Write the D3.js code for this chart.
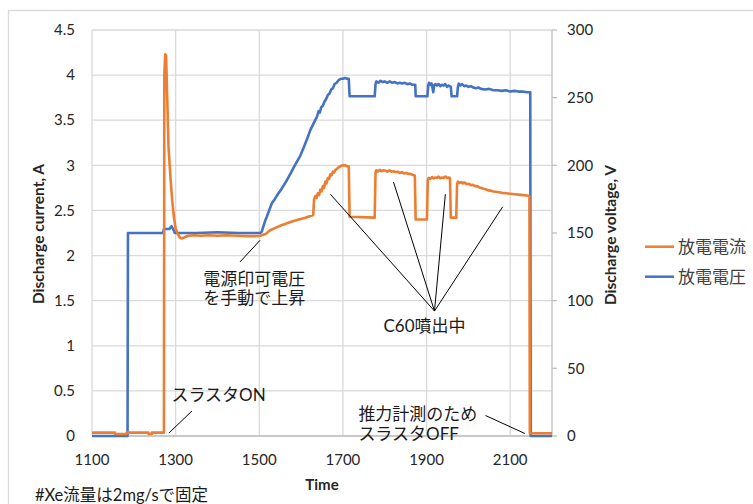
<!DOCTYPE html>
<html><head><meta charset="utf-8">
<script src="https://cdn.jsdelivr.net/npm/d3@7"></script>
<style>
html,body{margin:0;padding:0;background:#fff;}
svg{display:block;}
</style></head>
<body>
<svg id="chart" width="753" height="504"></svg>
<script>
// ---- data ----
const xTicks = [1100, 1300, 1500, 1700, 1900, 2100];
const leftTicks = [0, 0.5, 1, 1.5, 2, 2.5, 3, 3.5, 4, 4.5];
const rightTicks = [0, 50, 100, 150, 200, 250, 300];
const seriesNames = ["放電電流", "放電電圧"];
const xTitle = "Time";
const leftTitle = "Discharge current, A";
const rightTitle = "Discharge voltage, V";
const footnote = "#Xe流量は2mg/sで固定";

// 放電電流 [time, A]
const currentData = [
  [1100,0.037],[1155,0.037],[1155,0.022],[1183,0.022],[1183,0.037],[1235,0.037],[1235,0.022],[1243,0.022],[1243,0.037],[1272,0.037],
  [1273,4.0],[1275,4.23],[1277,4.22],[1279,3.9],[1283,3.2],[1288,2.84],[1292,2.6],[1296,2.42],[1300,2.3],[1306,2.23],[1310,2.2],[1314,2.19],[1320,2.2],
  [1330,2.22],[1345,2.225],[1360,2.22],[1380,2.225],[1400,2.22],[1420,2.225],[1450,2.22],[1470,2.215],[1490,2.215],[1502,2.22],
  [1515,2.24],[1526,2.28],[1540,2.31],[1550,2.33],[1565,2.355],[1580,2.38],[1595,2.40],[1610,2.42],[1629,2.45],
  [1631,2.62],[1634,2.66],[1637,2.64],[1640,2.69],[1643,2.67],[1646,2.73],[1649,2.71],[1652,2.77],[1655,2.75],[1658,2.82],[1661,2.80],
  [1664,2.86],[1667,2.85],[1670,2.90],[1673,2.89],[1676,2.93],[1679,2.92],[1682,2.95],[1686,2.96],[1690,2.98],[1694,2.99],[1698,3.0],
  [1702,3.0],[1706,3.0],[1710,2.99],[1714,2.99],[1716,2.43],[1776,2.42],
  [1778,2.92],[1780,2.945],[1784,2.93],[1788,2.95],[1792,2.935],[1797,2.945],[1802,2.94],[1806,2.93],[1811,2.945],[1816,2.93],[1821,2.935],
  [1826,2.925],[1831,2.93],[1836,2.915],[1841,2.925],[1846,2.91],[1851,2.915],[1856,2.905],[1861,2.905],[1866,2.895],[1870,2.89],[1872,2.885],
  [1874,2.40],[1901,2.40],
  [1903,2.83],[1905,2.86],[1909,2.85],[1913,2.87],[1917,2.855],[1921,2.865],[1925,2.86],[1929,2.875],[1933,2.855],[1937,2.865],[1941,2.86],
  [1945,2.875],[1949,2.86],[1953,2.865],[1956,2.86],[1958,2.42],[1971,2.42],
  [1973,2.79],[1975,2.82],[1979,2.805],[1983,2.815],[1987,2.80],[1991,2.81],[1996,2.79],[2001,2.795],[2006,2.78],[2011,2.785],[2016,2.77],
  [2021,2.77],[2026,2.755],[2031,2.75],[2036,2.74],[2041,2.735],[2046,2.725],[2052,2.72],[2060,2.71],[2070,2.705],[2080,2.695],[2090,2.69],
  [2100,2.685],[2110,2.68],[2120,2.675],[2130,2.67],[2140,2.665],[2146,2.66],[2147,0.03],[2200,0.03]
];

// 放電電圧 [time, V]
const voltageData = [
  [1100,0],[1185,0],[1186,150],[1230,150],[1270,150],[1272,153],[1285,153],[1290,155],[1294,153],[1298,150],[1350,150],[1400,150.5],
  [1450,150],[1502,150],[1506,151],[1510,155],[1514,159],[1518,162],[1524,167],[1530,172],[1537,175],[1545,179],[1552,182],[1558,185],
  [1566,189],[1575,194],[1585,200],[1598,207],[1606,213],[1615,220],[1622,226],[1630,231],[1638,236],[1642,240],[1645,239],[1648,243],
  [1652,244],[1656,247],[1660,249],[1664,252],[1668,253],[1672,256],[1676,257],[1680,260],[1685,261],[1690,263],[1695,264],[1700,264],
  [1705,264.5],[1710,264],[1714,264],[1716,251],[1776,251],
  [1778,260],[1780,262],[1785,261],[1790,262.5],[1795,261.5],[1800,262],[1806,261],[1812,262],[1818,261],[1824,261.5],[1830,260.5],
  [1836,261],[1842,260.5],[1848,261],[1854,260],[1860,260.5],[1866,259.5],[1873,259.5],[1874,251],[1902,251],
  [1904,259],[1906,261],[1909,259.5],[1912,260.5],[1914,258],[1916,254],[1918,259],[1921,260],[1925,259],[1929,260],[1933,258.5],
  [1937,259.5],[1941,259],[1945,260],[1949,258],[1953,259],[1958,258],[1960,251],[1973,251],
  [1975,258],[1977,260.5],[1981,259],[1985,260],[1990,258.5],[1995,259],[2000,258],[2006,258.5],[2012,257.5],[2018,257],[2024,257.5],
  [2030,256.5],[2040,256],[2050,256.5],[2060,255.5],[2070,255.5],[2080,255],[2090,255.5],[2100,254.5],[2110,255],[2120,254.5],
  [2130,254.5],[2140,254],[2148,254],[2149,0],[2200,0]
];

// annotations: text lines, anchor in data units (time, current)
const annotations = [
  {lines:["電源印可電圧","を手動で上昇"], t:1366, a:1.74},
  {lines:["C60噴出中"], t:1797, a:1.22},
  {lines:["スラスタON"], t:1290, a:0.455},
  {lines:["推力計測のため","スラスタOFF"], t:1737, a:0.24}
];
// leader lines [t1,a1,t2,a2]
const leaders = [
  [1502,2.17,1454,1.93],
  [1919,1.385,1670,2.68],
  [1919,1.385,1821,2.815],
  [1919,1.385,1945,2.68],
  [1919,1.385,2082,2.54],
  [1339,0.277,1284,0.033],
  [2041,0.227,2135,0.028]
];

// ---- chart ----
const plot = {left:92, right:552, top:30, bottom:436};
const colors = ["#ED7D31", "#4472C4"];
const latin = "Lato, 'Noto Sans CJK JP', sans-serif";
const cjk = "Lato, 'Noto Sans CJK JP', sans-serif";

const svg = d3.select("#chart");
const x = d3.scaleLinear().domain([1100, 2200]).range([plot.left, plot.right]);
const yL = d3.scaleLinear().domain([0, 4.5]).range([plot.bottom, plot.top]);
const yR = d3.scaleLinear().domain([0, 300]).range([plot.bottom, plot.top]);

// outer chart border
svg.append("rect").attr("x", 8.5).attr("y", 10.5).attr("width", 800).attr("height", 600)
  .attr("fill", "none").attr("stroke", "#d9d9d9").attr("stroke-width", 1.3);

// gridlines
const g = svg.append("g");
g.selectAll("line.hg").data(leftTicks).enter().append("line")
  .attr("x1", plot.left).attr("x2", plot.right)
  .attr("y1", d => yL(d)).attr("y2", d => yL(d))
  .attr("stroke", "#d9d9d9").attr("stroke-width", 1.3);
g.selectAll("line.vg").data(xTicks).enter().append("line")
  .attr("x1", d => x(d)).attr("x2", d => x(d))
  .attr("y1", plot.top).attr("y2", plot.bottom)
  .attr("stroke", "#d9d9d9").attr("stroke-width", 1.3);

// bottom axis line
svg.append("line").attr("x1", plot.left).attr("x2", plot.right)
  .attr("y1", plot.bottom).attr("y2", plot.bottom).attr("stroke", "#bfbfbf").attr("stroke-width", 1.3);
// right axis line + ticks
svg.append("line").attr("x1", plot.right).attr("x2", plot.right)
  .attr("y1", plot.top).attr("y2", plot.bottom).attr("stroke", "#bfbfbf").attr("stroke-width", 1.3);
svg.selectAll("line.rt").data(rightTicks).enter().append("line")
  .attr("x1", plot.right).attr("x2", plot.right + 5)
  .attr("y1", d => yR(d)).attr("y2", d => yR(d)).attr("stroke", "#bfbfbf").attr("stroke-width", 1.3);

// tick labels
svg.selectAll("text.lt").data(leftTicks).enter().append("text")
  .attr("x", plot.left - 17).attr("y", d => yL(d)).attr("dy", "0.35em")
  .attr("text-anchor", "end").attr("font-family", latin).attr("font-size", 15).attr("fill", "#262626")
  .text(d => d);
svg.selectAll("text.rt").data(rightTicks).enter().append("text")
  .attr("x", plot.right + 15).attr("y", d => yR(d)).attr("dy", "0.35em")
  .attr("text-anchor", "start").attr("font-family", latin).attr("font-size", 15).attr("fill", "#262626")
  .text(d => d);
svg.selectAll("text.xt").data(xTicks).enter().append("text")
  .attr("x", d => x(d)).attr("y", plot.bottom + 24).attr("dy", "0.35em")
  .attr("text-anchor", "middle").attr("font-family", latin).attr("font-size", 15).attr("fill", "#262626")
  .text(d => d);

// axis titles
svg.append("text").attr("x", (plot.left + plot.right) / 2).attr("y", 485).attr("dy", "0.35em")
  .attr("text-anchor", "middle").attr("font-family", latin).attr("font-weight", "bold")
  .attr("font-size", 15).attr("fill", "#262626").text(xTitle);
svg.append("text").attr("transform", `translate(39,${(plot.top + plot.bottom) / 2 + 1}) rotate(-90)`)
  .attr("dy", "0.35em").attr("text-anchor", "middle").attr("font-family", latin).attr("font-weight", "bold")
  .attr("font-size", 15.5).attr("fill", "#262626").text(leftTitle);
svg.append("text").attr("transform", `translate(611,${(plot.top + plot.bottom) / 2 + 2}) rotate(-90)`)
  .attr("dy", "0.35em").attr("text-anchor", "middle").attr("font-family", latin).attr("font-weight", "bold")
  .attr("font-size", 15.5).attr("fill", "#262626").text(rightTitle);

// series lines
const lineL = d3.line().x(d => x(d[0])).y(d => yL(d[1]));
const lineR = d3.line().x(d => x(d[0])).y(d => yR(d[1]));
svg.append("path").datum(voltageData).attr("d", lineR)
  .attr("fill", "none").attr("stroke", colors[1]).attr("stroke-width", 2.6).attr("stroke-linejoin", "round");
svg.append("path").datum(currentData).attr("d", lineL)
  .attr("fill", "none").attr("stroke", colors[0]).attr("stroke-width", 2.6).attr("stroke-linejoin", "round");

// leader lines
svg.selectAll("line.ld").data(leaders).enter().append("line")
  .attr("x1", d => x(d[0])).attr("y1", d => yL(d[1]))
  .attr("x2", d => x(d[2])).attr("y2", d => yL(d[3]))
  .attr("stroke", "#000").attr("stroke-width", 1);

// annotation texts
annotations.forEach(an => {
  const t = svg.append("text").attr("font-family", cjk).attr("font-size", 17).attr("fill", "#1a1a1a");
  an.lines.forEach((ln, i) => {
    t.append("tspan").attr("x", x(an.t)).attr("y", yL(an.a) + i * 19.5).attr("dy", "0.35em").text(ln);
  });
});

// footnote
svg.append("text").attr("x", 35).attr("y", 495).attr("dy", "0.35em")
  .attr("font-family", cjk).attr("font-size", 16.5).attr("fill", "#1a1a1a").text(footnote);

// legend
const legY = [246.7, 276.7];
seriesNames.forEach((n, i) => {
  svg.append("line").attr("x1", 645).attr("x2", 674).attr("y1", legY[i]).attr("y2", legY[i])
    .attr("stroke", colors[i]).attr("stroke-width", 2.5);
  svg.append("text").attr("x", 678).attr("y", legY[i]).attr("dy", "0.35em")
    .attr("font-family", cjk).attr("font-size", 17).attr("fill", "#404040").text(n);
});
</script>
</body></html>
